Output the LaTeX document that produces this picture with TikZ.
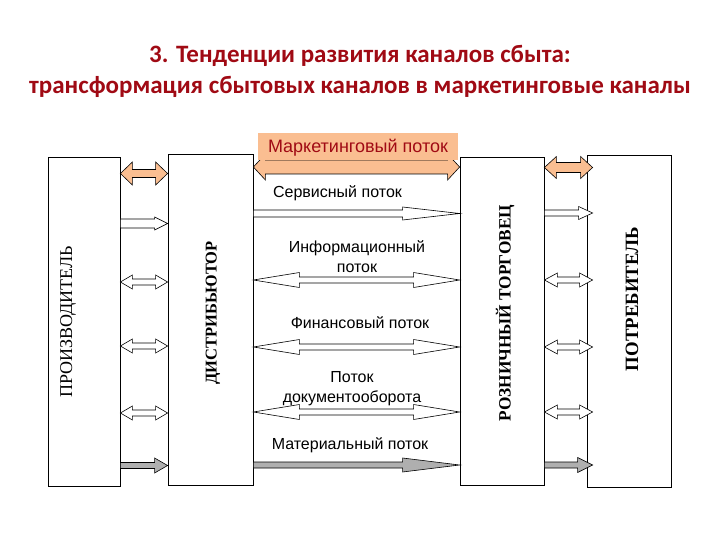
\documentclass[tikz,border=0pt]{standalone}
\usepackage{fontspec}
\setmainfont{Liberation Serif}
\newfontfamily\titlefont{Carlito}
\newfontfamily\flowfont{Liberation Sans}
\usepackage{tikz}
\usetikzlibrary{calc,positioning}

\definecolor{titlered}{RGB}{160,10,20}
\definecolor{mktorange}{RGB}{250,190,145}
\definecolor{matgray}{RGB}{175,175,175}

% two-headed block arrow: from, to, y, head length, head half-height, shaft half-height, style
\newcommand{\twoarrow}[7]{%
  \coordinate (ta) at (#1 |- 0,#3);
  \coordinate (tb) at (#2 |- 0,#3);
  \draw[#7] (ta) -- ($(ta)+(#4,#5)$) -- ($(ta)+(#4,#6)$) -- ($(tb)+(-#4,#6)$)
    -- ($(tb)+(-#4,#5)$) -- (tb) -- ($(tb)+(-#4,-#5)$) -- ($(tb)+(-#4,-#6)$)
    -- ($(ta)+(#4,-#6)$) -- ($(ta)+(#4,-#5)$) -- cycle;}
% one-headed block arrow, same arguments
\newcommand{\onearrow}[7]{%
  \coordinate (ta) at (#1 |- 0,#3);
  \coordinate (tb) at (#2 |- 0,#3);
  \draw[#7] ($(ta)+(0,#6)$) -- ($(tb)+(-#4,#6)$) -- ($(tb)+(-#4,#5)$) -- (tb)
    -- ($(tb)+(-#4,-#5)$) -- ($(tb)+(-#4,-#6)$) -- ($(ta)+(0,-#6)$) -- cycle;}

\begin{document}
\begin{tikzpicture}[x=1pt,y=-1pt,
  member/.style={draw,line width=0.8pt,inner sep=0pt},
  vlabel/.style={rotate=90},
  flowtext/.style={font=\flowfont\fontsize{16}{20}\selectfont,align=center},
  blank/.style={draw,line width=0.6pt,fill=white},
  mkt/.style={draw,line width=0.6pt,fill=mktorange},
  mat/.style={draw,line width=0.6pt,fill=matgray}]
  \useasboundingbox[fill=white] (0,0) rectangle (720,540);

  % title
  \node[anchor=base,text=titlered,font=\titlefont\bfseries\fontsize{25}{29}\selectfont] (title1) at (360,63) {3. Тенденции развития каналов сбыта:};
  \node[anchor=base,text=titlered,font=\titlefont\bfseries\fontsize{25}{29}\selectfont] (title2) at (360,94) {трансформация сбытовых каналов в маркетинговые каналы};

  % channel members
  \node[member,minimum width=72pt,minimum height=329pt] (prod) at (84,321.5) {};
  \node[member,minimum width=85pt,minimum height=331pt] (dist) at (210.5,319.5) {};
  \node[member,minimum width=84pt,minimum height=328pt] (ret) at (502,321) {};
  \node[member,minimum width=84pt,minimum height=332pt] (cons) at (629,321) {};
  \coordinate (consin) at ($(cons.west)+(6,0)$);

  \node[vlabel,font=\fontsize{18}{20}\selectfont] (prodlbl) at (68,322) {ПРОИЗВОДИТЕЛЬ};
  \node[vlabel,font=\bfseries\fontsize{16.5}{19}\selectfont] (distlbl) at (213,313) {ДИСТРИБЬЮТОР};
  \node[vlabel,font=\bfseries\fontsize{17.3}{19}\selectfont] (retlbl) at (505,313) {РОЗНИЧНЫЙ ТОРГОВЕЦ};
  \node[vlabel,font=\bfseries\fontsize{18.8}{21}\selectfont] (conslbl) at (632,299) {ПОТРЕБИТЕЛЬ};

  % marketing flow
  \twoarrow{prod.east}{dist.west}{173.5}{12}{11.5}{4}{mkt}
  \twoarrow{dist.east}{ret.west}{167}{12}{13}{7}{mkt}
  \twoarrow{ret.east}{consin}{167.5}{12}{11}{5}{mkt}
  \node[fill=mktorange,minimum width=200pt,minimum height=27pt,inner sep=0pt] (mktbox) at (358,146.5) {};
  \node[text=titlered,font=\flowfont\fontsize{18}{21}\selectfont] (mktlbl) at (358,148) {Маркетинговый поток};

  % service flow
  \onearrow{prod.east}{dist.west}{223.5}{13}{6.5}{4.5}{blank}
  \onearrow{dist.east}{ret.west}{213.5}{57}{6.5}{3.5}{blank}
  \onearrow{ret.east}{consin}{213}{14}{6.5}{3}{blank}
  \node[flowtext] (servlbl) at (337.5,193) {Сервисный поток};

  % information, financial and document flows
  \foreach \y/\z in {282/280,346/347,413/412}{
    \twoarrow{prod.east}{dist.west}{\y}{12}{7}{3}{blank}
    \twoarrow{dist.east}{ret.west}{\z}{46}{7.5}{3}{blank}
    \twoarrow{ret.east}{consin}{\z}{13}{7}{3}{blank}
  }
  \node[flowtext] (infolbl) at (357,257) {Информационный\\поток};
  \node[flowtext] (finlbl) at (360,323) {Финансовый поток};
  \node[flowtext] (doclbl) at (352,388.5) {Поток\\документооборота};

  % material flow
  \onearrow{prod.east}{dist.west}{465.5}{13}{7.5}{3}{mat}
  \onearrow{dist.east}{ret.west}{465}{57}{7}{3}{mat}
  \onearrow{ret.east}{consin}{465}{15}{7.5}{3}{mat}
  \node[flowtext] (matlbl) at (350,445) {Материальный поток};
\end{tikzpicture}
\end{document}
